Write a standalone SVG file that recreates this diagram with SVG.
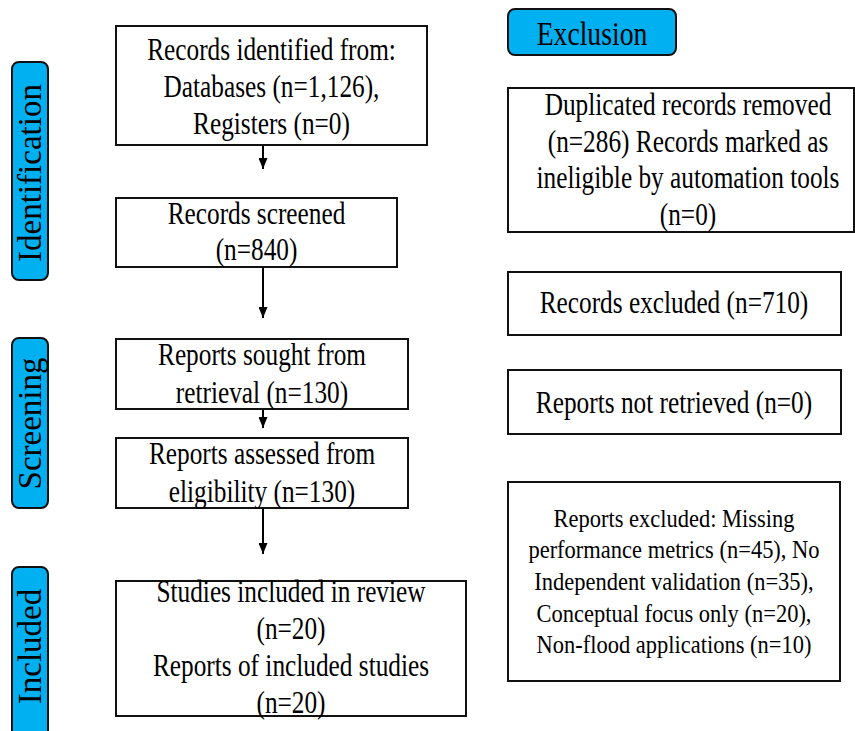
<svg xmlns="http://www.w3.org/2000/svg" width="855" height="731" viewBox="0 0 855 731">
<style>
.box{fill:#fff;stroke:#111;stroke-width:2}
.tag{fill:#00B0F0;stroke:#111;stroke-width:2}
.t{font-family:"Liberation Serif","Times New Roman",serif;font-size:25.3px;fill:#000;text-anchor:middle}
.s{font-family:"Liberation Serif","Times New Roman",serif;font-size:22.5px;fill:#000;text-anchor:middle}
.lab{font-family:"Liberation Serif","Times New Roman",serif;font-size:33px;fill:#000;text-anchor:middle}
.c{stroke:#000;stroke-width:2;fill:none}
</style>
<defs>
<marker id="ah" markerWidth="11" markerHeight="9" refX="11" refY="4.5" orient="auto" markerUnits="userSpaceOnUse" viewBox="0 0 11 9">
<path d="M0,0 L11,4.5 L0,9 Z" fill="#000"/>
</marker>
</defs>
<rect width="855" height="731" fill="#fff"/>

<g id="label-identification">
<rect class="tag" x="12" y="62" width="36" height="218" rx="7"/>
<text class="lab" transform="translate(41,173) rotate(-90)">Identification</text>
</g>
<g id="label-screening">
<rect class="tag" x="12" y="338" width="36" height="170" rx="7"/>
<text class="lab" transform="translate(41,423.5) rotate(-90)">Screening</text>
</g>
<g id="label-included">
<rect class="tag" x="12" y="567" width="36" height="172" rx="7"/>
<text class="lab" transform="translate(41,646.5) rotate(-90)">Included</text>
</g>
<g id="label-exclusion">
<rect class="tag" x="508" y="9" width="168" height="46" rx="7"/>
<text class="t" style="font-size:27.7px" transform="translate(592,45) scale(1,1.18)">Exclusion</text>
</g>

<g id="n-identified">
<rect class="box" x="116" y="26" width="311" height="119"/>
<text class="t" transform="translate(271.5,60) scale(1,1.22)"><tspan x="0" y="0">Records identified from:</tspan><tspan x="0" y="30.3">Databases (n=1,126),</tspan><tspan x="0" y="60.6">Registers (n=0)</tspan></text>
</g>
<g id="n-screened">
<rect class="box" x="116" y="198" width="281" height="69"/>
<text class="t" transform="translate(256.5,224) scale(1,1.22)"><tspan x="0" y="0">Records screened</tspan><tspan x="0" y="29.5">(n=840)</tspan></text>
</g>
<g id="n-sought">
<rect class="box" x="116" y="339" width="292" height="70"/>
<text class="t" transform="translate(262,365) scale(1,1.22)"><tspan x="0" y="0">Reports sought from</tspan><tspan x="0" y="31">retrieval (n=130)</tspan></text>
</g>
<g id="n-assessed">
<rect class="box" x="116" y="438" width="292" height="70"/>
<text class="t" transform="translate(262,464) scale(1,1.22)"><tspan x="0" y="0">Reports assessed from</tspan><tspan x="0" y="31">eligibility (n=130)</tspan></text>
</g>
<g id="n-included">
<rect class="box" x="116" y="581" width="350" height="135"/>
<text class="t" transform="translate(291,602) scale(1,1.22)"><tspan x="0" y="0">Studies included in review</tspan><tspan x="0" y="30.3">(n=20)</tspan><tspan x="0" y="60.6">Reports of included studies</tspan><tspan x="0" y="91">(n=20)</tspan></text>
</g>

<g id="n-duplicates">
<rect class="box" x="508" y="88" width="346" height="144"/>
<text class="t" transform="translate(688,115) scale(1,1.22)"><tspan x="0" y="0">Duplicated records removed</tspan><tspan x="0" y="30.3">(n=286) Records marked as</tspan><tspan x="0" y="59.8">ineligible by automation tools</tspan><tspan x="0" y="90.2">(n=0)</tspan></text>
</g>
<g id="n-rec-excluded">
<rect class="box" x="508" y="272" width="333" height="63"/>
<text class="t" transform="translate(674,313) scale(1,1.22)">Records excluded (n=710)</text>
</g>
<g id="n-not-retrieved">
<rect class="box" x="508" y="370" width="333" height="64"/>
<text class="t" transform="translate(674,413) scale(1,1.22)">Reports not retrieved (n=0)</text>
</g>
<g id="n-rep-excluded">
<rect class="box" x="508" y="482" width="332" height="199"/>
<text class="s" transform="translate(674,527) scale(1,1.15)"><tspan x="0" y="0">Reports excluded: Missing</tspan><tspan x="0" y="27.4">performance metrics (n=45), No</tspan><tspan x="0" y="54.8">Independent validation (n=35),</tspan><tspan x="0" y="82.2">Conceptual focus only (n=20),</tspan><tspan x="0" y="109.6">Non-flood applications (n=10)</tspan></text>
</g>

<g id="connectors">
<line class="c" x1="263" y1="145" x2="263" y2="169" marker-end="url(#ah)"/>
<line class="c" x1="263" y1="267" x2="263" y2="318" marker-end="url(#ah)"/>
<line class="c" x1="263" y1="409" x2="263" y2="428" marker-end="url(#ah)"/>
<line class="c" x1="263" y1="508" x2="263" y2="554" marker-end="url(#ah)"/>
</g>
</svg>
